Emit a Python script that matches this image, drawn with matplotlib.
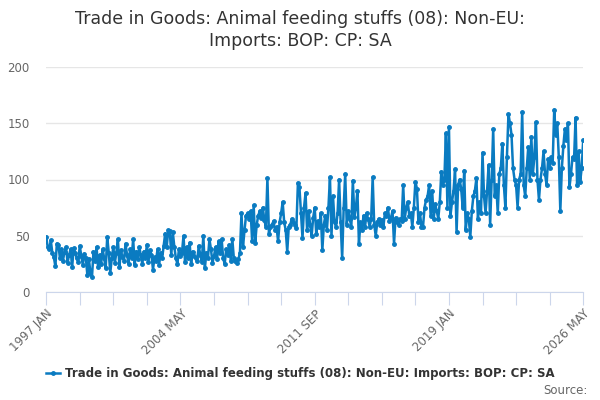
import numpy as np
import matplotlib
matplotlib.use("Agg")
import matplotlib.pyplot as plt
from matplotlib.lines import Line2D

# monthly values, 1997 JAN .. 2026 MAY
v1997 = [49, 40, 38, 46, 35, 31, 23, 43, 42, 30, 38, 28]
v1998 = [36, 40, 26, 33, 38, 22, 39, 35, 30, 27, 41, 32]
v1999 = [24, 34, 30, 15, 29, 17, 13, 36, 28, 40, 22, 33]
v2000 = [25, 38, 30, 21, 49, 35, 17, 30, 40, 26, 35, 47]
v2001 = [22, 37, 31, 28, 43, 33, 25, 38, 30, 47, 24, 36]
v2002 = [29, 40, 33, 25, 36, 30, 42, 27, 37, 33, 20, 31]
v2003 = [28, 38, 24, 35, 30, 41, 52, 40, 55, 54, 33, 53]
v2004 = [40, 30, 25, 38, 32, 35, 50, 27, 40, 30, 44, 25]
v2005 = [36, 32, 30, 28, 41, 33, 27, 50, 21, 35, 30, 47]
v2006 = [38, 26, 32, 40, 29, 45, 35, 47, 30, 25, 38, 33]
v2007 = [42, 28, 47, 30, 28, 26, 29, 35, 70, 40, 55, 68]
v2008 = [70, 65, 72, 45, 77, 44, 60, 68, 72, 66, 75, 64]
v2009 = [58, 101, 52, 58, 60, 63, 55, 58, 45, 62, 70, 80]
v2010 = [62, 55, 36, 58, 60, 65, 62, 60, 57, 97, 93, 70]
v2011 = [48, 75, 88, 55, 72, 60, 50, 66, 75, 52, 63, 58]
v2012 = [70, 37, 60, 68, 55, 75, 102, 50, 85, 62, 58, 70]
v2013 = [100, 62, 30, 75, 105, 60, 72, 65, 58, 99, 67, 75]
v2014 = [90, 43, 62, 55, 68, 58, 70, 65, 58, 65, 102, 60]
v2015 = [50, 62, 65, 60, 64, 58, 70, 68, 75, 63, 66, 72]
v2016 = [43, 66, 62, 60, 65, 63, 95, 65, 75, 80, 68, 70]
v2017 = [58, 75, 98, 92, 62, 70, 58, 58, 75, 82, 85, 95]
v2018 = [68, 90, 65, 78, 72, 65, 80, 107, 95, 100, 141, 75]
v2019 = [147, 68, 80, 90, 109, 53, 95, 100, 92, 75, 108, 55]
v2020 = [70, 65, 49, 72, 85, 90, 101, 65, 80, 70, 124, 85]
v2021 = [70, 90, 113, 60, 100, 145, 85, 95, 70, 105, 110, 132]
v2022 = [95, 75, 120, 158, 150, 140, 110, 100, 95, 75, 100, 105]
v2023 = [160, 95, 85, 110, 129, 100, 138, 105, 120, 151, 100, 82]
v2024 = [100, 110, 125, 105, 95, 118, 110, 120, 115, 162, 140, 150]
v2025 = [120, 72, 110, 130, 145, 135, 150, 93, 105, 120, 118, 155]
v2026 = [95, 125, 98, 110, 135]

values = (v1997 + v1998 + v1999 + v2000 + v2001 + v2002 + v2003 + v2004
          + v2005 + v2006 + v2007 + v2008 + v2009 + v2010 + v2011 + v2012
          + v2013 + v2014 + v2015 + v2016 + v2017 + v2018 + v2019 + v2020
          + v2021 + v2022 + v2023 + v2024 + v2025 + v2026)

tick_labels = ["1997 JAN", "2004 MAY", "2011 SEP", "2019 JAN", "2026 MAY"]
series_name = "Trade in Goods: Animal feeding stuffs (08): Non-EU: Imports: BOP: CP: SA"
title = "Trade in Goods: Animal feeding stuffs (08): Non-EU:\nImports: BOP: CP: SA"

line_color = "#0a7bc1"
months = np.arange(len(values))

fig = plt.figure(figsize=(6, 4), dpi=100)
ax = fig.add_axes([0.077, 0.27, 0.895, 0.5625])

ax.plot(months, values, color=line_color, lw=1.8, marker="o", ms=2.5, zorder=3)

ax.set_xlim(0, len(values) - 1)
ax.set_ylim(0, 200)
ax.set_yticks([0, 50, 100, 150, 200])
ax.grid(axis="y", color="#e6e6e6", lw=1)
ax.set_axisbelow(True)
for s in ["left", "right", "top"]:
    ax.spines[s].set_visible(False)
ax.spines["bottom"].set_color("#ccd6eb")
ax.tick_params(axis="y", length=0, labelsize=8.5, labelcolor="#666666", pad=12)

# a tick every 22 months, a label on every 4th
step = 22
xt = np.arange(0, len(values), step)
labels = []
for i in range(len(xt)):
    labels.append(tick_labels[i // 4] if i % 4 == 0 else "")
ax.set_xticks(xt)
ax.set_xticklabels(labels, rotation=45, ha="right", rotation_mode="anchor")
ax.tick_params(axis="x", length=9, color="#ccd6eb", labelsize=8.5,
               labelcolor="#666666", pad=2)

fig.text(0.5, 0.925, title, ha="center", va="center", fontsize=12.5,
         color="#333333", linespacing=1.25)

handle = Line2D([0], [0], color=line_color, lw=1.8, marker="o", ms=2.5)
fig.legend([handle], [series_name], loc="center", bbox_to_anchor=(0.5, 0.065),
           frameon=False, prop={"weight": "bold", "size": 8.5},
           handlelength=1.2, handletextpad=0.4, labelcolor="#333333")

fig.text(0.98, 0.025, "Source:", ha="right", va="center", fontsize=8.5,
         color="#666666")

fig.savefig("out.png", dpi=100)
